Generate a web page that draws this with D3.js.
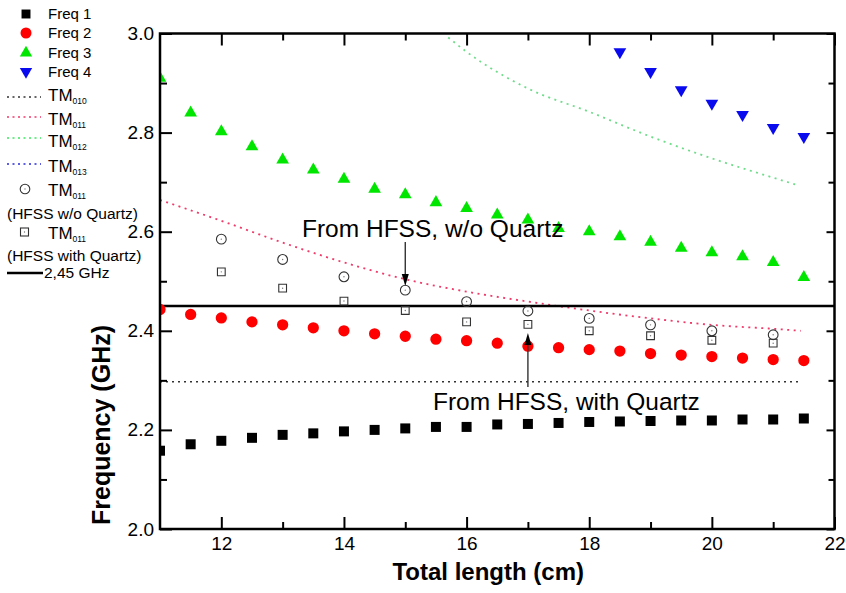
<!DOCTYPE html>
<html>
<head>
<meta charset="utf-8">
<script src="https://cdn.jsdelivr.net/npm/d3@7"></script>
<style>
  body { margin: 0; background: #fff; }
  text { font-family: Arial, "Liberation Sans", sans-serif; }
</style>
</head>
<body>
<div id="chart"></div>
<script>
// measured frequencies vs total length
var lengthX = [11, 11.5, 12, 12.5, 13, 13.5, 14, 14.5, 15, 15.5, 16, 16.5, 17, 17.5, 18, 18.5, 19, 19.5, 20, 20.5, 21, 21.5];
var freq1 = [2.158, 2.171, 2.178, 2.184, 2.190, 2.193, 2.197, 2.200, 2.203, 2.206, 2.206, 2.211, 2.212, 2.214, 2.216, 2.217, 2.218, 2.219, 2.219, 2.221, 2.221, 2.223];
var freq2 = [2.443, 2.433, 2.426, 2.418, 2.412, 2.406, 2.400, 2.394, 2.389, 2.383, 2.380, 2.375, 2.369, 2.366, 2.362, 2.359, 2.354, 2.351, 2.348, 2.345, 2.342, 2.340];
var freq3 = [2.910, 2.840, 2.802, 2.772, 2.745, 2.725, 2.706, 2.686, 2.675, 2.659, 2.647, 2.634, 2.624, 2.607, 2.600, 2.590, 2.579, 2.567, 2.558, 2.550, 2.538, 2.508];
var freq4X = [18.5, 19, 19.5, 20, 20.5, 21, 21.5];
var freq4 = [2.963, 2.923, 2.886, 2.859, 2.836, 2.810, 2.792];

// theory curves
var tm010X = [11, 21.45];
var tm010 = [2.297, 2.297];
var tm011X = [11, 12, 13, 14, 15, 16, 17, 18, 19, 20, 21, 21.45];
var tm011 = [2.664, 2.622, 2.578, 2.538, 2.504, 2.479, 2.459, 2.441, 2.425, 2.412, 2.404, 2.400];
var tm012X = [15.7, 16, 17, 18, 19, 20, 21, 21.4];
var tm012 = [2.992, 2.963, 2.889, 2.842, 2.792, 2.748, 2.709, 2.694];

// HFSS simulation
var hfssX = [12, 13, 14, 15, 16, 17, 18, 19, 20, 21];
var hfssNoQuartz = [2.585, 2.544, 2.509, 2.482, 2.459, 2.440, 2.425, 2.412, 2.400, 2.392];
var hfssQuartz = [2.519, 2.486, 2.460, 2.441, 2.418, 2.413, 2.400, 2.390, 2.381, 2.375];

var refFreq = 2.45;

var xMajor = [12, 14, 16, 18, 20, 22];
var xMinor = [13, 15, 17, 19, 21];
var yMajor = [2.0, 2.2, 2.4, 2.6, 2.8, 3.0];
var yMinor = [2.1, 2.3, 2.5, 2.7, 2.9];

var svgWidth = 846;
var svgHeight = 593;
var margin = { top: 33.5, right: 11.5, bottom: 64, left: 160 };
var width = svgWidth - margin.left - margin.right;
var height = svgHeight - margin.top - margin.bottom;

var svg = d3.select("#chart").append("svg")
    .attr("width", svgWidth)
    .attr("height", svgHeight);

var g = svg.append("g")
    .attr("transform", `translate(${margin.left}, ${margin.top})`);

var x = d3.scaleLinear().domain([11, 22]).range([0, width]);
var y = d3.scaleLinear().domain([2.0, 3.0]).range([height, 0]);

g.append("clipPath").attr("id", "plotclip")
    .append("rect").attr("width", width).attr("height", height);

var plot = g.append("g").attr("clip-path", "url(#plotclip)");

function pairs(xs, ys) {
    return xs.map((v, i) => [v, ys[i]]);
}

var line = d3.line()
    .x(d => x(d[0]))
    .y(d => y(d[1]))
    .curve(d3.curveMonotoneX);

// dotted theory lines
plot.append("path").datum(pairs(tm010X, tm010))
    .attr("d", line).attr("fill", "none")
    .attr("stroke", "#333").attr("stroke-width", 1.5).attr("stroke-dasharray", "2,4");
plot.append("path").datum(pairs(tm011X, tm011))
    .attr("d", line).attr("fill", "none")
    .attr("stroke", "#f03a6a").attr("stroke-width", 1.8).attr("stroke-dasharray", "2,4.5");
plot.append("path").datum(pairs(tm012X, tm012))
    .attr("d", line).attr("fill", "none")
    .attr("stroke", "#6fdc8a").attr("stroke-width", 1.8).attr("stroke-dasharray", "2,4.5");

// 2.45 GHz line
plot.append("line")
    .attr("x1", 0).attr("x2", width)
    .attr("y1", y(refFreq)).attr("y2", y(refFreq))
    .attr("stroke", "#000").attr("stroke-width", 2.5);

function drawSeries(xs, ys, type, size, fill) {
    plot.append("g").selectAll("path")
        .data(pairs(xs, ys))
        .enter()
        .append("path")
        .attr("d", d3.symbol().type(type).size(size))
        .attr("transform", d => `translate(${x(d[0])}, ${y(d[1])})`)
        .attr("fill", fill);
}

drawSeries(lengthX, freq1, d3.symbolSquare, 100, "#000");
drawSeries(lengthX, freq2, d3.symbolCircle, 100, "#ff0000");
drawSeries(lengthX, freq3, d3.symbolTriangle, 70, "#00e600");

// Freq 4 - downward triangles
plot.append("g").selectAll("path")
    .data(pairs(freq4X, freq4))
    .enter()
    .append("path")
    .attr("d", d3.symbol().type(d3.symbolTriangle).size(70))
    .attr("transform", d => `translate(${x(d[0])}, ${y(d[1])}) rotate(180)`)
    .attr("fill", "#0a0aee");

// open markers with the little centre dot
function drawOpen(xs, ys, type, size) {
    var grp = plot.append("g").selectAll("g")
        .data(pairs(xs, ys))
        .enter()
        .append("g")
        .attr("transform", d => `translate(${x(d[0])}, ${y(d[1])})`);
    grp.append("path")
        .attr("d", d3.symbol().type(type).size(size))
        .attr("fill", "none")
        .attr("stroke", "#333")
        .attr("stroke-width", 1.1);
    grp.append("circle").attr("r", 0.7).attr("fill", "#777");
}
drawOpen(hfssX, hfssNoQuartz, d3.symbolCircle, 75);
drawOpen(hfssX, hfssQuartz, d3.symbolSquare, 60);

// axes with inward ticks on all four sides
function styleAxis(sel) {
    sel.select(".domain").remove();
    sel.selectAll(".tick line").attr("stroke", "#000").attr("stroke-width", 2);
    sel.selectAll("text").attr("fill", "#000").style("font-size", "19px");
}

g.append("g").attr("transform", `translate(0, ${height})`)
    .call(d3.axisBottom(x).tickValues(xMajor).tickSizeInner(-12).tickSizeOuter(0).tickPadding(8).tickFormat(d3.format("d")))
    .call(styleAxis);
g.append("g").attr("transform", `translate(0, ${height})`)
    .call(d3.axisBottom(x).tickValues(xMinor).tickSizeInner(-7).tickSizeOuter(0).tickFormat(""))
    .call(styleAxis);
g.append("g")
    .call(d3.axisTop(x).tickValues(xMajor).tickSizeInner(-12).tickSizeOuter(0).tickFormat(""))
    .call(styleAxis);
g.append("g")
    .call(d3.axisTop(x).tickValues(xMinor).tickSizeInner(-7).tickSizeOuter(0).tickFormat(""))
    .call(styleAxis);
g.append("g")
    .call(d3.axisLeft(y).tickValues(yMajor).tickSizeInner(-12).tickSizeOuter(0).tickPadding(6).tickFormat(d3.format(".1f")))
    .call(styleAxis);
g.append("g")
    .call(d3.axisLeft(y).tickValues(yMinor).tickSizeInner(-7).tickSizeOuter(0).tickFormat(""))
    .call(styleAxis);
g.append("g").attr("transform", `translate(${width}, 0)`)
    .call(d3.axisRight(y).tickValues(yMajor).tickSizeInner(-8).tickSizeOuter(0).tickFormat(""))
    .call(styleAxis);
g.append("g").attr("transform", `translate(${width}, 0)`)
    .call(d3.axisRight(y).tickValues(yMinor).tickSizeInner(-6).tickSizeOuter(0).tickFormat(""))
    .call(styleAxis);

g.append("rect")
    .attr("width", width).attr("height", height)
    .attr("fill", "none").attr("stroke", "#000").attr("stroke-width", 2.5);

// axis titles
svg.append("text")
    .attr("x", margin.left + width / 2 - 9)
    .attr("y", 580)
    .attr("text-anchor", "middle")
    .style("font-size", "24px").style("font-weight", "bold")
    .text("Total length (cm)");

svg.append("text")
    .attr("transform", "rotate(-90)")
    .attr("x", -425)
    .attr("y", 110)
    .attr("text-anchor", "middle")
    .style("font-size", "25px").style("font-weight", "bold")
    .text("Frequency (GHz)");

// annotations
function arrow(xPos, yFrom, yTip) {
    var dir = yTip > yFrom ? 1 : -1;
    svg.append("line")
        .attr("x1", xPos).attr("x2", xPos)
        .attr("y1", yFrom).attr("y2", yTip - dir * 10)
        .attr("stroke", "#333").attr("stroke-width", 1.4);
    svg.append("path")
        .attr("d", `M${xPos - 3.5},${yTip - dir * 12} L${xPos + 3.5},${yTip - dir * 12} L${xPos},${yTip} Z`)
        .attr("fill", "#000");
}

svg.append("text").attr("x", 302).attr("y", 237)
    .style("font-size", "24.5px").text("From HFSS, w/o Quartz");
arrow(margin.left + x(15), 242, 286);

svg.append("text").attr("x", 433).attr("y", 410)
    .style("font-size", "24.5px").text("From HFSS, with Quartz");
arrow(margin.left + x(17), 387, 333);

// legend
var legend = svg.append("g");
var textX = 48;

function legendSymbol(cy, type, size, fill, rot) {
    legend.append("path")
        .attr("d", d3.symbol().type(type).size(size))
        .attr("transform", `translate(26, ${cy})` + (rot ? " rotate(180)" : ""))
        .attr("fill", fill);
}
function legendText(cy, label) {
    legend.append("text").attr("x", textX).attr("y", cy).attr("dy", "0.35em")
        .style("font-size", "15px").text(label);
}
function legendTM(cy, sub) {
    var t = legend.append("text").attr("x", textX).attr("y", cy).attr("dy", "0.35em")
        .style("font-size", "17px");
    t.append("tspan").text("TM");
    t.append("tspan").attr("dy", "0.3em").style("font-size", "8.5px").text(sub);
}
function legendDots(cy, color) {
    legend.append("line")
        .attr("x1", 7).attr("x2", 41).attr("y1", cy).attr("y2", cy)
        .attr("stroke", color).attr("stroke-width", 1.5).attr("stroke-dasharray", "2,3.5");
}

legendSymbol(14, d3.symbolSquare, 80, "#000");
legendText(14, "Freq 1");
legendSymbol(33, d3.symbolCircle, 95, "#ff0000");
legendText(33, "Freq 2");
legendSymbol(53, d3.symbolTriangle, 66, "#00e600");
legendText(52.5, "Freq 3");
legendSymbol(71.5, d3.symbolTriangle, 66, "#0a0aee", true);
legendText(72, "Freq 4");

legendDots(97, "#333");
legendTM(95, "010");
legendDots(117, "#f03a6a");
legendTM(119, "011");
legendDots(138, "#3ee860");
legendTM(141, "012");
legendDots(164, "#2a2add");
legendTM(166, "013");

legend.append("circle").attr("cx", 25).attr("cy", 189).attr("r", 4.8)
    .attr("fill", "none").attr("stroke", "#333").attr("stroke-width", 1.1);
legend.append("circle").attr("cx", 25).attr("cy", 189).attr("r", 0.7).attr("fill", "#777");
legendTM(190, "011");
legend.append("text").attr("x", 7).attr("y", 214).attr("dy", "0.35em")
    .style("font-size", "15.5px").text("(HFSS w/o Quartz)");

legend.append("rect").attr("x", 20.5).attr("y", 228).attr("width", 8).attr("height", 8)
    .attr("fill", "none").attr("stroke", "#333").attr("stroke-width", 1.1);
legend.append("circle").attr("cx", 24.5).attr("cy", 232).attr("r", 0.7).attr("fill", "#777");
legendTM(233, "011");
legend.append("text").attr("x", 7).attr("y", 256).attr("dy", "0.35em")
    .style("font-size", "15.5px").text("(HFSS with Quartz)");

legend.append("line").attr("x1", 7).attr("x2", 43).attr("y1", 273).attr("y2", 273)
    .attr("stroke", "#000").attr("stroke-width", 2.5);
legend.append("text").attr("x", 44).attr("y", 273).attr("dy", "0.35em")
    .style("font-size", "15.5px").text("2,45 GHz");
</script>
</body>
</html>
